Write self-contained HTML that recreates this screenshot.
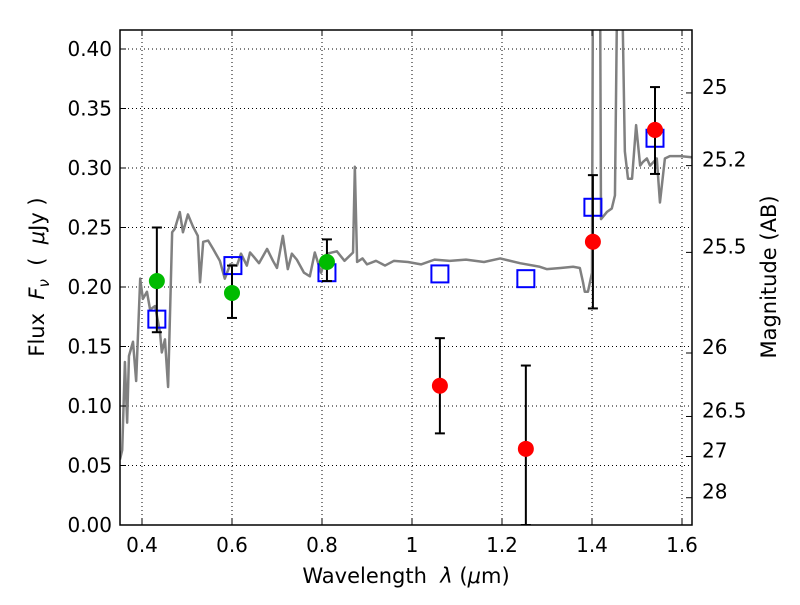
<!DOCTYPE html>
<html><head><meta charset="utf-8"><style>
body{margin:0;background:#fff;}
svg text{font-family:"DejaVu Sans","Liberation Sans",sans-serif;white-space:pre;}
</style></head><body>
<svg id="chart" width="800" height="600" xmlns="http://www.w3.org/2000/svg">
<rect width="800" height="600" fill="#fff"/>
<g id="grid"></g>
<g id="spec"></g>
<g id="marks"></g>
<g id="axes"></g>
<text x="406" y="583" font-size="21" text-anchor="middle">Wavelength&#160;&#160;<tspan font-style="italic">λ</tspan> (<tspan font-style="italic">μ</tspan>m)</text>
<text transform="translate(44,277) rotate(-90)" font-size="21" text-anchor="middle">Flux&#160;&#160;<tspan font-style="italic">F</tspan><tspan font-style="italic" font-size="15" dy="5">ν</tspan><tspan dy="-5">&#160;&#160;(&#160;&#160;</tspan><tspan font-style="italic">μ</tspan>Jy )</text>
<text transform="translate(776,277) rotate(-90)" font-size="21" text-anchor="middle">Magnitude (AB)</text>
</svg>
<script>
const xTicks=[0.4,0.6,0.8,1.0,1.2,1.4,1.6];
const xTickLabels=["0.4","0.6","0.8","1","1.2","1.4","1.6"];
const yTicks=[0,0.05,0.1,0.15,0.2,0.25,0.3,0.35,0.4];
const yTickLabels=["0.00","0.05","0.10","0.15","0.20","0.25","0.30","0.35","0.40"];
const magTicks=[25,25.2,25.5,26,26.5,27,28];
const magTickLabels=["25","25.2","25.5","26","26.5","27","28"];
const specW=[0.351,0.356,0.362,0.367,0.371,0.380,0.387,0.396,0.402,0.411,0.418,0.429,0.440,0.444,0.451,0.458,0.467,0.473,0.484,0.491,0.502,0.513,0.524,0.529,0.536,0.547,0.558,0.573,0.584,0.596,0.611,0.620,0.633,0.640,0.647,0.660,0.678,0.691,0.700,0.713,0.724,0.733,0.744,0.760,0.773,0.784,0.798,0.811,0.833,0.850,0.869,0.873,0.878,0.890,0.900,0.920,0.940,0.960,0.991,1.020,1.050,1.084,1.120,1.160,1.196,1.240,1.284,1.300,1.330,1.358,1.373,1.380,1.384,1.391,1.400,1.402,1.418,1.420,1.433,1.444,1.451,1.456,1.467,1.473,1.480,1.489,1.498,1.507,1.513,1.522,1.529,1.544,1.551,1.562,1.573,1.596,1.622];
const specF=[0.055,0.063,0.137,0.086,0.142,0.154,0.121,0.207,0.190,0.196,0.181,0.184,0.162,0.145,0.156,0.116,0.246,0.249,0.263,0.246,0.261,0.251,0.243,0.204,0.238,0.239,0.232,0.222,0.207,0.219,0.218,0.228,0.218,0.229,0.226,0.220,0.232,0.222,0.216,0.243,0.215,0.228,0.223,0.212,0.209,0.229,0.212,0.228,0.230,0.222,0.229,0.301,0.221,0.224,0.219,0.222,0.218,0.222,0.221,0.219,0.223,0.222,0.223,0.221,0.224,0.220,0.217,0.215,0.216,0.217,0.216,0.204,0.196,0.196,0.212,0.45,0.45,0.257,0.263,0.266,0.277,0.45,0.45,0.314,0.291,0.291,0.336,0.302,0.305,0.308,0.302,0.308,0.271,0.308,0.310,0.310,0.309];
const greenW=[0.433,0.600,0.811];
const greenF=[0.205,0.195,0.221];
const greenLo=[0.162,0.174,0.205];
const greenHi=[0.250,0.218,0.240];
const redW=[1.062,1.253,1.402,1.540];
const redF=[0.117,0.064,0.238,0.332];
const redLo=[0.077,0.0,0.182,0.295];
const redHi=[0.157,0.134,0.294,0.368];
const sqW=[0.433,0.602,0.811,1.062,1.253,1.402,1.540];
const sqF=[0.173,0.218,0.212,0.211,0.207,0.267,0.325];

const X0=120,X1=692,Y0=30,Y1=525;
const xs=w=>142+(w-0.4)*450;
const ys=f=>525-f*1190;
const NS="http://www.w3.org/2000/svg";
function mk(parent,tag,attrs){const e=document.createElementNS(NS,tag);for(const k in attrs)e.setAttribute(k,attrs[k]);parent.appendChild(e);return e;}
const grid=document.getElementById('grid'),axes=document.getElementById('axes'),spec=document.getElementById('spec'),marks=document.getElementById('marks');
const defs=mk(document.getElementById('chart'),'defs',{});
const cp=mk(defs,'clipPath',{id:'cp'});mk(cp,'rect',{x:X0,y:Y0,width:X1-X0,height:Y1-Y0});
spec.setAttribute('clip-path','url(#cp)');marks.setAttribute('clip-path','url(#cp)');
xTicks.forEach((t,i)=>{const x=xs(t);
 const g=mk(grid,'line',{x1:x,x2:x,y1:Y0,y2:Y1,stroke:'#000','stroke-dasharray':'1,3','stroke-width':1});
 
 mk(axes,'line',{x1:x,x2:x,y1:Y1,y2:Y1-6,stroke:'#000'});mk(axes,'line',{x1:x,x2:x,y1:Y0,y2:Y0+6,stroke:'#000'});
 const tx=mk(axes,'text',{x:x,y:Y1+27,'font-size':20,'text-anchor':'middle'});tx.textContent=xTickLabels[i];
 });
yTicks.forEach((t,i)=>{const y=ys(t);
 if(t>0){const g=mk(grid,'line',{x1:X0,x2:X1,y1:y,y2:y,stroke:'#000','stroke-dasharray':'1,3','stroke-width':1});
 }
 mk(axes,'line',{x1:X0,x2:X0+6,y1:y,y2:y,stroke:'#000'});
 const tx=mk(axes,'text',{x:X0-8,y:y+7,'font-size':20,'text-anchor':'end'});tx.textContent=yTickLabels[i];
 });
magTicks.forEach((m,i)=>{const y=ys(Math.pow(10,(23.9-m)/2.5));
 mk(axes,'line',{x1:X1,x2:X1-6,y1:y,y2:y,stroke:'#000'});
 const tx=mk(axes,'text',{x:X1+10,y:y+1,'font-size':20});tx.textContent=magTickLabels[i];
 });
const fr=mk(axes,'rect',{x:X0,y:Y0,width:X1-X0,height:Y1-Y0,fill:'none',stroke:'#000','stroke-width':1.5});

const pl=mk(spec,'polyline',{points:specW.map((w,i)=>xs(w)+','+ys(specF[i])).join(' '),fill:'none',stroke:'#808080','stroke-width':2.5,'stroke-linejoin':'round'});

sqW.forEach((w,i)=>{const r=mk(marks,'rect',{x:xs(w)-8.5,y:ys(sqF[i])-8.5,width:17,height:17,fill:'none',stroke:'#0000ff','stroke-width':2});
 });
function pts(W,F,Lo,Hi,col,name){W.forEach((w,i)=>{const x=xs(w);
 const e=mk(marks,'g',{stroke:'#000','stroke-width':2});
 
 mk(e,'line',{x1:x,x2:x,y1:ys(Lo[i]),y2:ys(Hi[i])});
 mk(e,'line',{x1:x-5,x2:x+5,y1:ys(Lo[i]),y2:ys(Lo[i])});
 mk(e,'line',{x1:x-5,x2:x+5,y1:ys(Hi[i]),y2:ys(Hi[i])});
 const c=mk(marks,'circle',{cx:x,cy:ys(F[i]),r:8,fill:col});
 });}
pts(greenW,greenF,greenLo,greenHi,'#00bb00','detection');
pts(redW,redF,redLo,redHi,'#ff0000','upper-limit');
</script>
</body></html>
